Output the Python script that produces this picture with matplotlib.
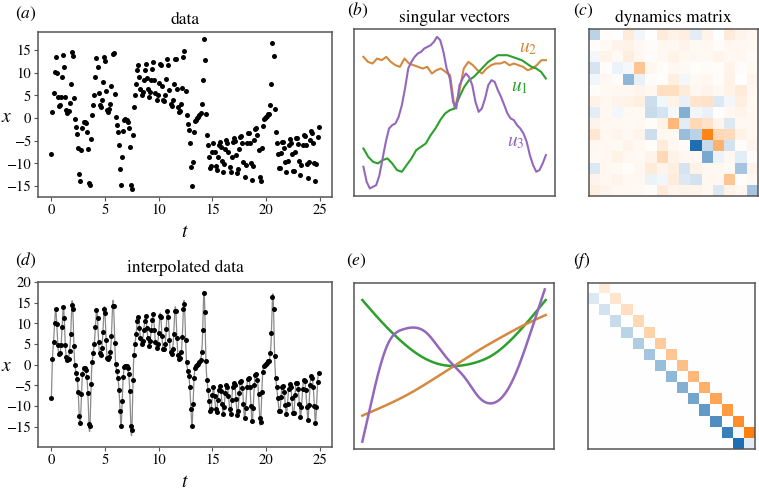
import numpy as np
import matplotlib
matplotlib.use("Agg")
import matplotlib.pyplot as plt
from matplotlib.colors import LinearSegmentedColormap

plt.rcParams['font.family'] = ['STIXGeneral', 'DejaVu Serif']
plt.rcParams['mathtext.fontset'] = 'stix'

# ---------------- data (panel a / d) ----------------
x_data = [
    -8.0, 1.3, 5.5, 10.1, 13.5, 9.9, 4.7, 2.6, 2.8, 4.7,
    9.1, 14.0, 11.3, 4.7, 1.8, 1.2, 1.5, 3.4, 7.5, 14.5,
    13.6, 4.5, -0.1, -1.9, -3.5, -6.7, -12.4, -14.0, -7.1, -2.3,
    -0.9, -0.8, -1.2, -3.0, -6.9, -14.4, -14.8, -4.7, 0.6, 2.8,
    5.0, 9.1, 13.2, 11.2, 5.5, 2.8, 2.4, 4.0, 7.9, 13.4,
    12.6, 5.9, 1.7, 1.3, 1.9, 3.1, 7.0, 14.1, 14.3, 5.3,
    0.2, -1.6, -3.1, -6.0, -11.3, -14.8, -8.7, -2.9, -0.5, -0.3,
    -0.4, -0.9, -2.3, -6.4, -14.8, -15.7, -3.8, 2.4, 5.0, 7.5,
    10.6, 11.6, 9.0, 6.4, 5.0, 5.7, 8.3, 10.5, 11.9, 8.9,
    6.4, 4.6, 5.7, 8.3, 10.8, 12.3, 8.4, 5.5, 4.0, 5.0,
    7.7, 11.9, 11.6, 7.0, 3.9, 3.7, 5.1, 8.6, 13.0, 11.6,
    6.1, 3.0, 2.6, 3.9, 7.5, 13.0, 13.0, 6.4, 2.4, 1.3,
    1.6, 3.0, 6.7, 13.5, 14.7, 5.9, 0.6, -1.4, -2.7, -5.5,
    -10.8, -14.9, -9.6, -3.1, -0.7, -0.4, 0.0, 0.2, 0.6, 1.1,
    3.0, 8.3, 17.4, 12.7, 1.0, -3.7, -6.0, -8.7, -11.1, -10.6,
    -7.4, -5.5, -7.6, -10.6, -11.4, -8.6, -6.0, -5.2, -6.4, -9.4,
    -11.8, -10.2, -6.8, -4.9, -5.4, -7.5, -10.8, -12.0, -8.6, -5.3,
    -4.3, -5.0, -8.2, -12.1, -11.2, -6.8, -4.2, -4.0, -5.6, -9.6,
    -13.0, -10.4, -5.5, -3.4, -3.3, -5.4, -10.0, -13.7, -10.5, -4.8,
    -2.4, -2.2, -3.8, -7.1, -13.0, -13.8, -6.5, -1.8, -0.2, 0.0,
    0.2, 0.5, 0.8, 1.0, 2.8, 7.6, 16.5, 13.6, 2.0, -3.1,
    -5.4, -8.0, -11.1, -11.1, -7.7, -5.3, -5.2, -6.6, -9.8, -11.9,
    -9.5, -5.9, -4.6, -5.4, -8.0, -11.6, -11.7, -7.4, -4.3, -4.4,
    -5.8, -9.4, -12.6, -10.3, -5.9, -3.8, -4.0, -6.0, -10.1, -13.3,
    -9.8, -4.8, -2.8, -3.2, -5.5, -10.0, -14.0, -10.1, -4.2, -1.9,
]
dt = 0.1
t_data = np.arange(len(x_data)) * dt

# ---------------- singular vectors (panel b), normalised units ----------------
u1_b = [0.30, 0.25, 0.22, 0.21, 0.23, 0.24, 0.21, 0.17, 0.16, 0.20, 0.24, 0.29,
        0.31, 0.33, 0.38, 0.42, 0.47, 0.51, 0.53, 0.54, 0.61, 0.67, 0.71, 0.73,
        0.76, 0.79, 0.82, 0.84, 0.86, 0.86, 0.86, 0.85, 0.84, 0.83, 0.81, 0.79,
        0.78, 0.76, 0.72]
u2_b = [0.85, 0.82, 0.81, 0.84, 0.83, 0.85, 0.82, 0.80, 0.79, 0.84, 0.81, 0.80,
        0.79, 0.78, 0.79, 0.75, 0.77, 0.78, 0.76, 0.74, 0.54, 0.64, 0.78, 0.82,
        0.80, 0.77, 0.75, 0.78, 0.80, 0.81, 0.81, 0.82, 0.80, 0.81, 0.80, 0.79,
        0.77, 0.78, 0.80, 0.83, 0.83]
u3_b = [0.19, 0.10, 0.06, 0.07, 0.08, 0.14, 0.24, 0.34, 0.42, 0.44, 0.45, 0.49,
        0.56, 0.66, 0.78, 0.82, 0.85, 0.87, 0.88, 0.90, 0.91, 0.92, 0.94, 0.97,
        0.95, 0.88, 0.78, 0.72, 0.58, 0.54, 0.68, 0.72, 0.75, 0.73, 0.68, 0.58,
        0.52, 0.54, 0.60, 0.68, 0.71, 0.70, 0.65, 0.61, 0.56, 0.51, 0.48, 0.47,
        0.44, 0.42, 0.39, 0.34, 0.26, 0.20, 0.16, 0.17, 0.21, 0.26]

# ---------------- smooth basis (panel e), normalised units ----------------
s1_e = [0.0, 0.096, 0.195, 0.295, 0.403, 0.50, 0.602, 0.711, 0.81, 0.91, 1.0]
u1_e = [0.896, 0.776, 0.666, 0.576, 0.516, 0.50, 0.516, 0.566, 0.656, 0.776, 0.896]
s2_e = [0.0, 0.125, 0.25, 0.375, 0.5, 0.625, 0.75, 0.875, 1.0]
u2_e = [0.202, 0.262, 0.330, 0.412, 0.50, 0.588, 0.668, 0.742, 0.806]
s3_e = [0.0, 0.036, 0.087, 0.141, 0.222, 0.291, 0.349,
        0.403, 0.467, 0.566, 0.638, 0.705, 0.765, 0.837, 0.91, 0.995]
u3_e = [0.046, 0.22, 0.456, 0.636, 0.72, 0.73, 0.70,
        0.63, 0.54, 0.42, 0.31, 0.276, 0.316, 0.456, 0.676, 0.96]

# ---------------- dynamics matrix (panel c) ----------------
A_c = [
    [-0.30, 0.02, 0.00, 0.15, -0.06, 0.00, 0.15, 0.10, 0.12, -0.12, 0.08, 0.00, 0.15, 0.08, 0.05],
    [0.02, 0.04, 0.08, 0.10, 0.05, 0.03, 0.06, 0.05, 0.08, 0.04, 0.05, 0.03, 0.06, 0.05, 0.04],
    [-0.05, 0.08, 0.04, 0.14, 0.05, 0.03, 0.05, 0.10, 0.06, 0.05, 0.04, 0.08, 0.05, 0.06, 0.03],
    [-0.18, 0.02, -0.08, -0.04, 0.45, 0.06, 0.02, 0.05, 0.04, 0.02, 0.03, 0.02, 0.08, 0.03, 0.04],
    [-0.06, 0.05, 0.03, -0.50, -0.10, 0.03, 0.02, 0.12, -0.05, 0.04, 0.06, 0.02, 0.10, 0.00, 0.08],
    [0.02, 0.04, 0.05, 0.05, 0.08, 0.06, 0.25, 0.25, 0.15, 0.06, 0.08, 0.05, 0.10, 0.15, 0.05],
    [0.10, 0.06, 0.08, 0.10, 0.12, -0.22, -0.06, 0.10, -0.10, 0.20, 0.22, -0.15, -0.05, 0.12, 0.04],
    [-0.12, 0.05, -0.05, 0.05, 0.04, -0.25, -0.18, -0.04, -0.55, -0.06, -0.10, 0.00, 0.06, 0.08, 0.05],
    [0.08, 0.06, 0.05, 0.04, 0.06, 0.03, 0.10, 0.55, -0.12, 0.30, 0.22, 0.08, -0.15, 0.05, 0.06],
    [0.18, 0.06, 0.08, 0.05, 0.08, -0.22, 0.06, 0.04, -0.45, -0.30, 0.95, 0.30, 0.28, 0.10, 0.05],
    [0.05, 0.06, 0.04, 0.08, 0.05, 0.02, 0.15, 0.05, 0.03, -1.00, -0.25, 0.60, -0.20, 0.03, 0.08],
    [0.04, 0.06, 0.10, 0.05, 0.04, 0.08, 0.30, 0.10, 0.05, 0.06, -0.60, -0.08, 0.05, -0.12, 0.03],
    [-0.15, 0.06, 0.04, 0.02, 0.05, 0.15, 0.08, 0.12, -0.18, 0.10, 0.06, 0.05, 0.04, -0.40, 0.08],
    [0.08, 0.06, 0.08, 0.05, 0.06, -0.08, -0.06, 0.15, -0.15, -0.20, 0.06, 0.06, 0.45, 0.02, 0.05],
    [0.12, 0.08, 0.06, 0.05, 0.04, 0.03, 0.15, 0.08, 0.10, 0.08, 0.06, -0.15, 0.10, 0.06, -0.40],
]

# ---------------- dynamics matrix (panel f) ----------------
sup_f = [0.15, 0.20, 0.25, 0.30, 0.35, 0.40, 0.45, 0.50, 0.55, 0.62, 0.70, 0.78, 0.88, 1.00]
sub_f = [-0.15, -0.20, -0.25, -0.30, -0.35, -0.40, -0.45, -0.50, -0.55, -0.62, -0.70, -0.78, -0.88, -1.00]
diag_f = [0.0] * 13 + [-0.04, -0.12]


def natural_spline(xk, yk, xs):
    """Natural cubic spline through (xk, yk), evaluated at xs."""
    xk = np.asarray(xk, float)
    yk = np.asarray(yk, float)
    n = len(xk)
    hk = np.diff(xk)
    A = np.zeros((n, n))
    r = np.zeros(n)
    A[0, 0] = A[-1, -1] = 1.0
    for i in range(1, n - 1):
        A[i, i - 1] = hk[i - 1]
        A[i, i] = 2 * (hk[i - 1] + hk[i])
        A[i, i + 1] = hk[i]
        r[i] = 6 * ((yk[i + 1] - yk[i]) / hk[i] - (yk[i] - yk[i - 1]) / hk[i - 1])
    Mk = np.linalg.solve(A, r)
    j = np.clip(np.searchsorted(xk, xs) - 1, 0, n - 2)
    a, b, hh = xk[j], xk[j + 1], hk[j]
    return (Mk[j] * (b - xs) ** 3 / (6 * hh) + Mk[j + 1] * (xs - a) ** 3 / (6 * hh)
            + (yk[j] - Mk[j] * hh ** 2 / 6) * (b - xs) / hh
            + (yk[j + 1] - Mk[j + 1] * hh ** 2 / 6) * (xs - a) / hh)


W, H = 759, 496
fig = plt.figure(figsize=(W / 100, H / 100), dpi=100)


def ax_px(l, t, r, b):
    return fig.add_axes([l / W, 1 - b / H, (r - l) / W, (b - t) / H])


def ftext(x, y, s, **kw):
    fig.text(x / W, 1 - y / H, s, **kw)


spine_col = '#555555'
cmap = LinearSegmentedColormap.from_list('bo', ['#1f6fb0', '#ffffff', '#ff7f0e'])
c_green, c_orange, c_purple = '#2ca02c', '#d4893f', '#9467bd'
TITLE = 12.5
PANEL = 12.5


def style(ax, ticks=True):
    for s in ax.spines.values():
        s.set_color(spine_col)
        s.set_linewidth(1.1)
    if ticks:
        ax.tick_params(labelsize=10.5, length=3, width=0.8, color=spine_col, pad=2)
    else:
        ax.set_xticks([])
        ax.set_yticks([])


# (a)
axa = ax_px(38, 31.7, 332, 196.7)
axa.scatter(t_data, x_data, s=13, color='black', linewidths=0)
axa.set_xticks([0, 5, 10, 15, 20, 25])
axa.set_yticks([-15, -10, -5, 0, 5, 10, 15])
style(axa)
axa.set_title('data', fontsize=TITLE, pad=5.5)
axa.set_xlabel('$t$', fontsize=14, labelpad=5)
ftext(6.5, 117, '$x$', fontsize=14, ha='center', va='center')
ftext(15, 18, '$(a)$', fontsize=PANEL, ha='left', va='baseline')

# (d) natural cubic spline through the data
tf = np.linspace(t_data[0], t_data[-1], 4000)
yf = natural_spline(t_data, x_data, tf)

axd = ax_px(38, 281.7, 332, 447)
axd.plot(tf, yf, color='#8a8a8a', lw=0.9)
axd.scatter(t_data, x_data, s=13, color='black', linewidths=0, zorder=3)
axd.set_xticks([0, 5, 10, 15, 20, 25])
axd.set_yticks([-15, -10, -5, 0, 5, 10, 15, 20])
axd.set_ylim(-19.9, 20.1)
style(axd)
axd.set_title('interpolated data', fontsize=TITLE, pad=7)
axd.set_xlabel('$t$', fontsize=14, labelpad=5)
ftext(6.5, 366, '$x$', fontsize=14, ha='center', va='center')
ftext(15, 265, '$(d)$', fontsize=PANEL, ha='left', va='baseline')

# (b)
axb = ax_px(354.3, 29.3, 555, 196)
axb.plot(np.linspace(0, 1, len(u2_b)), u2_b, color=c_orange, lw=1.5)
axb.plot(np.linspace(0, 1, len(u1_b)), u1_b, color=c_green, lw=1.5)
axb.plot(np.linspace(0, 1, len(u3_b)), u3_b, color=c_purple, lw=1.5)
style(axb, ticks=False)
axb.set_title('singular vectors', fontsize=TITLE, pad=5.5)
axb.text(0.82, 0.86, '$u_2$', transform=axb.transAxes, color=c_orange, fontsize=14)
axb.text(0.78, 0.63, '$u_1$', transform=axb.transAxes, color=c_green, fontsize=14)
axb.text(0.76, 0.30, '$u_3$', transform=axb.transAxes, color=c_purple, fontsize=14)
ftext(347, 15, '$(b)$', fontsize=PANEL, ha='left', va='baseline')

# (c)
axc = ax_px(588.7, 29.3, 757.7, 196)
Ac = np.array(A_c)
vc = np.abs(Ac).max()
axc.imshow(Ac, cmap=cmap, vmin=-vc, vmax=vc, aspect='auto', interpolation='nearest')
style(axc, ticks=False)
axc.set_title('dynamics matrix', fontsize=TITLE, pad=5.5)
ftext(573, 15, '$(c)$', fontsize=PANEL, ha='left', va='baseline')

# (e)
axe = ax_px(353.7, 282.7, 554.3, 449.3)
for sk, uk, col in [(s1_e, u1_e, c_green), (s2_e, u2_e, c_orange), (s3_e, u3_e, c_purple)]:
    ss = np.linspace(sk[0], sk[-1], 300)
    axe.plot(ss, natural_spline(sk, uk, ss), color=col, lw=1.8)
axe.set_xlim(-0.047, 1.047)
axe.set_ylim(0.0, 1.0)
style(axe, ticks=False)
ftext(346, 265, '$(e)$', fontsize=PANEL, ha='left', va='baseline')

# (f)
axf = ax_px(588.3, 282.7, 755, 449.3)
Af = np.diag(diag_f) + np.diag(sup_f, 1) + np.diag(sub_f, -1)
vf = np.abs(Af).max()
axf.imshow(Af, cmap=cmap, vmin=-vf, vmax=vf, aspect='auto', interpolation='nearest')
style(axf, ticks=False)
ftext(573, 265, '$(f)$', fontsize=PANEL, ha='left', va='baseline')

fig.savefig('out.png', dpi=100)
